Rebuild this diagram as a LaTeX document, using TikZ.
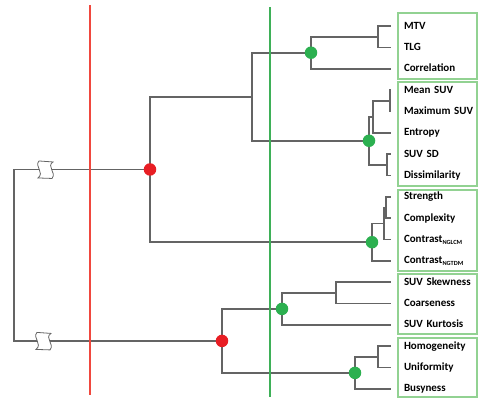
\documentclass[tikz,border=0pt]{standalone}
\usepackage{fontspec}
\setmainfont{Carlito}
\usetikzlibrary{positioning}
\definecolor{cutred}{RGB}{240,72,62}
\definecolor{cutgreen}{RGB}{62,176,88}
\definecolor{dotred}{RGB}{232,30,36}
\definecolor{dotgreen}{RGB}{44,176,80}
\definecolor{boxgreen}{RGB}{146,210,146}
\definecolor{branchgray}{RGB}{100,100,100}
\tikzstyle{leaf} = [rectangle, text width=72pt, inner xsep=13pt, inner ysep=0pt,
    text height=8pt, text depth=2pt, align=left, node distance=21.35pt,
    font=\fontsize{11}{13}\selectfont\bfseries]
\tikzstyle{branch} = [draw=branchgray, line width=1.6pt]
\tikzstyle{groupbox} = [draw=boxgreen, line width=1.5pt]
\tikzstyle{cutline} = [line width=1.9pt]
\tikzstyle{brk} = [draw=branchgray, fill=white, line width=0.8pt]
\tikzstyle{reddot} = [circle, fill=dotred, inner sep=0pt, minimum size=12.5pt]
\tikzstyle{greendot} = [circle, fill=dotgreen, inner sep=0pt, minimum size=12.5pt]
\newcommand{\sub}[1]{\raisebox{-1.8pt}{\fontsize{6.3}{7}\selectfont #1}}

\begin{document}
\begin{tikzpicture}[x=1pt, y=-1pt]
        \useasboundingbox (0,0) rectangle (479,400);
        % Leaf nodes
        \node [leaf] (mtv) at (440,26) {MTV};
        \node [leaf, below of=mtv] (tlg) {TLG};
        \node [leaf, below of=tlg] (corr) {Correlation};
        \node [leaf, below of=corr] (meansuv) {Mean SUV};
        \node [leaf, below of=meansuv] (maxsuv) {Maximum SUV};
        \node [leaf, below of=maxsuv] (entropy) {Entropy};
        \node [leaf, below of=entropy] (suvsd) {SUV SD};
        \node [leaf, below of=suvsd] (dissim) {Dissimilarity};
        \node [leaf, below of=dissim] (strength) {Strength};
        \node [leaf, below of=strength] (complexity) {Complexity};
        \node [leaf, below of=complexity] (nglcm) {Contrast\sub{NGLCM}};
        \node [leaf, below of=nglcm] (ngtdm) {Contrast\sub{NGTDM}};
        \node [leaf, below of=ngtdm] (skew) {SUV Skewness};
        \node [leaf, below of=skew] (coarse) {Coarseness};
        \node [leaf, below of=coarse] (kurt) {SUV Kurtosis};
        \node [leaf, below of=kurt] (homog) {Homogeneity};
        \node [leaf, below of=homog] (unif) {Uniformity};
        \node [leaf, below of=unif] (busy) {Busyness};
        % Group boxes
        \draw [groupbox] (398,13) rectangle (477,79);
        \draw [groupbox] (398,82) rectangle (477,186);
        \draw [groupbox] (398,190) rectangle (477,271);
        \draw [groupbox] (398,274) rectangle (477,334);
        \draw [groupbox] (398,338) rectangle (477,397);
        % Merge points
        \coordinate (mt) at (378,36.7);
        \coordinate (d1) at (311,52.7);
        \coordinate (mm) at (390,100.7);
        \coordinate (mx) at (373,116.7);
        \coordinate (sd) at (387,164.8);
        \coordinate (d2) at (369,140.75);
        \coordinate (a1) at (252,96.7);
        \coordinate (sc) at (386,207.5);
        \coordinate (sn) at (384,223.5);
        \coordinate (d3) at (372,242.2);
        \coordinate (r1) at (150,169.45);
        \coordinate (sk) at (336,292.9);
        \coordinate (d4) at (282,308.9);
        \coordinate (hu) at (378,356.9);
        \coordinate (d5) at (355,372.9);
        \coordinate (r2) at (222,340.9);
        \coordinate (root) at (14,255.2);
        % Draw edges
        \path [branch] (mtv.west) -| (mt) |- (tlg.west);
        \path [branch] (mt) -| (d1) |- (corr.west);
        \path [branch] (meansuv.west) -| (mm) |- (maxsuv.west);
        \path [branch] (mm) -| (mx) |- (entropy.west);
        \path [branch] (suvsd.west) -| (sd) |- (dissim.west);
        \path [branch] (mx) -| (d2) |- (sd);
        \path [branch] (d1) -| (a1) |- (d2);
        \path [branch] (strength.west) -| (sc) |- (complexity.west);
        \path [branch] (sc) -| (sn) |- (nglcm.west);
        \path [branch] (sn) -| (d3) |- (ngtdm.west);
        \path [branch] (a1) -| (r1) |- (d3);
        \path [branch] (skew.west) -| (sk) |- (coarse.west);
        \path [branch] (sk) -| (d4) |- (kurt.west);
        \path [branch] (homog.west) -| (hu) |- (unif.west);
        \path [branch] (hu) -| (d5) |- (busy.west);
        \path [branch] (d4) -| (r2) |- (d5);
        \path [branch] (r1) -| (root) |- (r2);
        % Axis breaks
        \coordinate (b1) at (46,169.45);
        \coordinate (b2) at (44,340.9);
        \draw [brk, shift={(b1)}] (-7,-8.5) -- (7,-7.5) .. controls (0,-3) and (11,3) .. (6,9)
            -- (-8,8.5) .. controls (-1,3) and (-12,-3) .. cycle;
        \draw [brk, shift={(b2)}] (-7,-8.5) -- (7,-7.5) .. controls (0,-3) and (11,3) .. (6,9)
            -- (-8,8.5) .. controls (-1,3) and (-12,-3) .. cycle;
        % Cut lines
        \draw [cutline, cutred] (90,5) -- (90,395);
        \draw [cutline, cutgreen] (270,7) -- (270,397);
        % Cluster dots
        \node [greendot] (d1dot) at (d1) {};
        \node [greendot] (d2dot) at (d2) {};
        \node [greendot] (d3dot) at (d3) {};
        \node [greendot] (d4dot) at (d4) {};
        \node [greendot] (d5dot) at (d5) {};
        \node [reddot] (r1dot) at (r1) {};
        \node [reddot] (r2dot) at (r2) {};
\end{tikzpicture}
\end{document}
